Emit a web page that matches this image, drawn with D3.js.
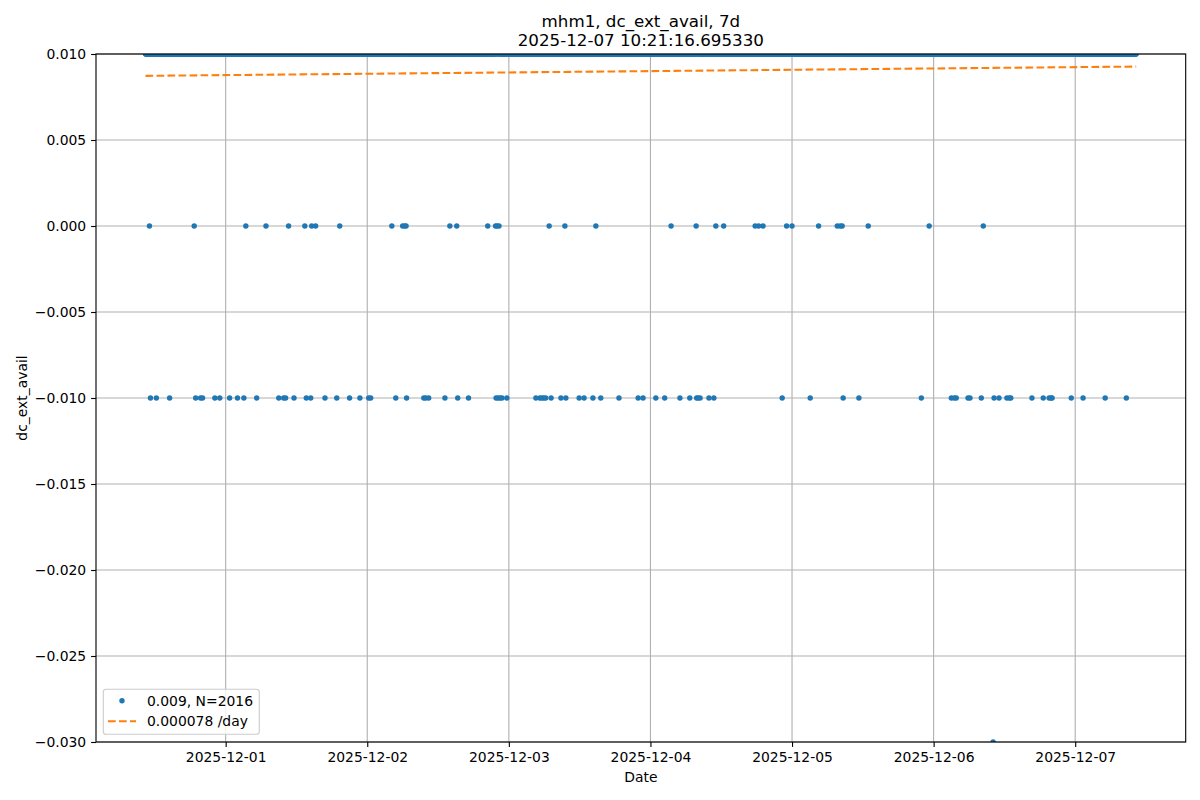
<!DOCTYPE html>
<html><head><meta charset="utf-8">
<script src="https://cdn.jsdelivr.net/npm/d3@7"></script>
<style>body{margin:0;background:#fff} svg{font-family:"DejaVu Sans",sans-serif;display:block}</style>
</head><body><svg id="c" width="1200" height="800"></svg>
<script>
// ---- data ----
const titleLines = ["mhm1, dc_ext_avail, 7d", "2025-12-07 10:21:16.695330"];
const firstSample = "2025-11-30T10:25:00Z";
const sampleCount = 2016;
const sampleMinutes = 5;
const baseValue = 0.01;            // most samples sit at this level
const dayRef = "2025-12-01T00:00:00Z"; // day offsets below are relative to this
const zeroDays = [-0.537,-0.221,0.141,0.283,0.445,0.558,0.608,0.636,0.806,1.173,1.249,1.263,1.275,1.583,1.633,
  1.852,1.906,1.918,1.929,2.283,2.396,2.615,3.145,3.322,3.463,3.519,3.741,3.765,3.795,3.963,4.000,4.189,
  4.318,4.339,4.353,4.537,4.968,5.350];
const minusDays = [-0.530,-0.488,-0.396,-0.212,-0.177,-0.163,-0.078,-0.042,0.028,0.085,0.127,0.219,0.375,0.410,
  0.424,0.481,0.570,0.601,0.700,0.784,0.876,0.947,1.011,1.025,1.201,1.279,1.399,1.413,1.435,1.548,1.640,
  1.717,1.908,1.922,1.936,1.951,1.986,2.191,2.219,2.233,2.247,2.261,2.297,2.367,2.403,2.495,2.530,2.594,
  2.650,2.777,2.912,2.947,3.039,3.102,3.208,3.279,3.322,3.336,3.350,3.413,3.449,3.929,4.127,4.360,4.473,
  4.912,5.124,5.145,5.159,5.244,5.258,5.336,5.427,5.463,5.519,5.534,5.544,5.696,5.774,5.816,5.830,5.837,
  5.972,6.057,6.212,6.360];
const lowDays = [5.421];
const zeroValue = 0.0, minusValue = -0.01, lowValue = -0.03;
const yTicks = [0.01, 0.005, 0, -0.005, -0.01, -0.015, -0.02, -0.025, -0.03];
const yDomain = [-0.03, 0.01];
const xTickLabels = ["2025-12-01","2025-12-02","2025-12-03","2025-12-04","2025-12-05","2025-12-06","2025-12-07"];
const trendValues = [0.00873, 0.00927]; // fitted line at first / last sample
const legendLabels = ["0.009, N=2016", "0.000078 /day"];
const axisLabels = {x: "Date", y: "dc_ext_avail"};

// ---- build series ----
const stepMs = sampleMinutes * 60000;
const t0 = new Date(firstSample);
const ref = new Date(dayRef);
const values = new Array(sampleCount).fill(baseValue);
const taken = new Set();
function place(days, v) {
  days.forEach(d => {
    let s = Math.round((+ref + d * 864e5 - +t0) / stepMs);
    while (taken.has(s)) s++;
    taken.add(s); values[s] = v;
  });
}
place(lowDays, lowValue);
place(zeroDays, zeroValue);
place(minusDays, minusValue);
const data = values.map((v, i) => ({t: new Date(+t0 + i * stepMs), v}));
const tEnd = data[data.length - 1].t;

// ---- layout ----
const L = 96, R = 1185.7, T = 54, B = 742;
const pad = 0.05 * (tEnd - t0);
const x = d3.scaleUtc().domain([new Date(+t0 - pad), new Date(+tEnd + pad)]).range([L, R]);
const y = d3.scaleLinear().domain(yDomain).range([B, T]);
const svg = d3.select("#c");
const fs = 13.9, grid = "#b0b0b0", lw = 1.11;
const blue = "#1f77b4", orange = "#ff7f0e";
const xTicks = xTickLabels.map(s => new Date(s + "T00:00:00Z"));

svg.append("defs").append("clipPath").attr("id", "clip")
  .append("rect").attr("x", L).attr("y", T).attr("width", R - L).attr("height", B - T);

// grid
const g = svg.append("g");
g.selectAll(".gx").data(xTicks).join("line")
  .attr("x1", d => x(d)).attr("x2", d => x(d)).attr("y1", T).attr("y2", B)
  .attr("stroke", grid).attr("stroke-width", lw);
g.selectAll(".gy").data(yTicks).join("line")
  .attr("y1", d => y(d)).attr("y2", d => y(d)).attr("x1", L).attr("x2", R)
  .attr("stroke", grid).attr("stroke-width", lw);

// points
const plot = svg.append("g").attr("clip-path", "url(#clip)");
plot.selectAll("circle").data(data).join("circle")
  .attr("cx", d => x(d.t)).attr("cy", d => y(d.v)).attr("r", 2.7).attr("fill", blue);

// trend line
plot.append("path")
  .datum([{t: t0, v: trendValues[0]}, {t: tEnd, v: trendValues[1]}])
  .attr("d", d3.line().x(d => x(d.t)).y(d => y(d.v)))
  .attr("fill", "none").attr("stroke", orange).attr("stroke-width", 2.08)
  .attr("stroke-dasharray", "7.7,3.3");

// axes
const fmtY = d => d3.format(".3f")(d).replace("-", "\u2212");
const ax = svg.append("g").attr("transform", `translate(0,${B})`)
  .call(d3.axisBottom(x).tickValues(xTicks).tickFormat(d3.utcFormat("%Y-%m-%d")).tickSize(4.9).tickPadding(4.9));
const ay = svg.append("g").attr("transform", `translate(${L},0)`)
  .call(d3.axisLeft(y).tickValues(yTicks).tickFormat(fmtY).tickSize(4.9).tickPadding(4.9));
[ax, ay].forEach(a => {
  a.select(".domain").remove();
  a.selectAll("line").attr("stroke", "#000").attr("stroke-width", lw);
  a.selectAll("text").attr("font-size", fs).attr("fill", "#000").attr("font-family", "DejaVu Sans");
});

// frame
svg.append("rect").attr("x", L).attr("y", T).attr("width", R - L).attr("height", B - T)
  .attr("fill", "none").attr("stroke", "#000").attr("stroke-width", lw);

// labels
svg.append("text").attr("x", (L + R) / 2).attr("y", 782).attr("text-anchor", "middle")
  .attr("font-size", fs).text(axisLabels.x);
svg.append("text").attr("transform", `translate(27,${(T + B) / 2}) rotate(-90)`).attr("text-anchor", "middle")
  .attr("font-size", fs).text(axisLabels.y);
svg.append("text").attr("x", (L + R) / 2).attr("y", 26.7).attr("text-anchor", "middle")
  .attr("font-size", 16.7).text(titleLines[0]);
svg.append("text").attr("x", (L + R) / 2).attr("y", 45.9).attr("text-anchor", "middle")
  .attr("font-size", 16.7).text(titleLines[1]);

// legend
const lg = svg.append("g");
lg.append("rect").attr("x", 103.3).attr("y", 689.3).attr("width", 156).attr("height", 45).attr("rx", 2.8)
  .attr("fill", "#fff").attr("fill-opacity", 0.8).attr("stroke", "#cccccc").attr("stroke-width", lw);
lg.append("circle").attr("cx", 122).attr("cy", 700.7).attr("r", 2.7).attr("fill", blue);
lg.append("line").attr("x1", 108).attr("x2", 136).attr("y1", 721.3).attr("y2", 721.3)
  .attr("stroke", orange).attr("stroke-width", 2.08).attr("stroke-dasharray", "7.7,3.3");
lg.append("text").attr("x", 147).attr("y", 705.6).attr("font-size", fs).text(legendLabels[0]);
lg.append("text").attr("x", 147).attr("y", 726.2).attr("font-size", fs).text(legendLabels[1]);
</script></body></html>
